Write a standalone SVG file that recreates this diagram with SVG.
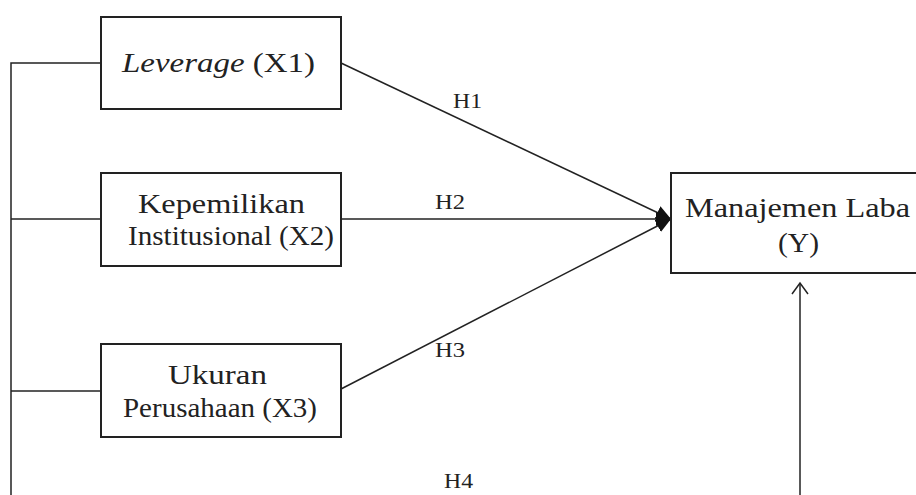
<svg xmlns="http://www.w3.org/2000/svg" width="916" height="495" viewBox="0 0 916 495">
<style>
.box{fill:#fff;stroke:#222;stroke-width:2}
.ln{fill:none;stroke:#222;stroke-width:1.5}
.t{font-family:"Liberation Serif","Times New Roman",serif;fill:#222;font-size:27px}
.h{font-family:"Liberation Serif","Times New Roman",serif;fill:#222;font-size:21px}
</style>
<defs>
<marker id="fill" markerUnits="userSpaceOnUse" markerWidth="16" markerHeight="16" refX="15" refY="7" orient="auto"><path d="M0,0 L15,7 L0,14 Z" fill="#111"/></marker>
</defs>
<g id="connectors">
<path class="ln" d="M11,495 V63 H101"/>
<path class="ln" d="M11,219 H101"/>
<path class="ln" d="M11,391 H101"/>
<line class="ln" x1="341" y1="63" x2="671" y2="219" marker-end="url(#fill)"/>
<line class="ln" x1="341" y1="219" x2="671" y2="219" marker-end="url(#fill)"/>
<line class="ln" x1="341" y1="389" x2="671" y2="219" marker-end="url(#fill)"/>
<path class="ln" d="M800,495 V283"/>
<path d="M792,294 L800,283 L808,294" fill="none" stroke="#222" stroke-width="1.5"/>
<text class="h" x="453" y="108" textLength="29" lengthAdjust="spacingAndGlyphs">H1</text>
<text class="h" x="435" y="209" textLength="30" lengthAdjust="spacingAndGlyphs">H2</text>
<text class="h" x="435" y="357" textLength="30" lengthAdjust="spacingAndGlyphs">H3</text>
<text class="h" x="444" y="488" textLength="29" lengthAdjust="spacingAndGlyphs">H4</text>
</g>
<g id="x1">
<rect class="box" x="101" y="17" width="240" height="92"/>
<text class="t" x="122" y="72" textLength="193" lengthAdjust="spacingAndGlyphs"><tspan font-style="italic">Leverage</tspan> (X1)</text>
</g>
<g id="x2">
<rect class="box" x="101" y="173" width="240" height="93"/>
<text class="t" x="138" y="213" textLength="167" lengthAdjust="spacingAndGlyphs">Kepemilikan</text>
<text class="t" x="128" y="245" font-size="24" textLength="206" lengthAdjust="spacingAndGlyphs">Institusional (X2)</text>
</g>
<g id="x3">
<rect class="box" x="101" y="344" width="240" height="93"/>
<text class="t" x="168" y="384" textLength="99" lengthAdjust="spacingAndGlyphs">Ukuran</text>
<text class="t" x="123" y="417" font-size="24" textLength="194" lengthAdjust="spacingAndGlyphs">Perusahaan (X3)</text>
</g>
<g id="y">
<rect class="box" x="671" y="173" width="260" height="100"/>
<text class="t" x="685" y="217" font-size="28" textLength="225" lengthAdjust="spacingAndGlyphs">Manajemen Laba</text>
<text class="t" x="778" y="252" textLength="41" lengthAdjust="spacingAndGlyphs">(Y)</text>
</g>
</svg>
